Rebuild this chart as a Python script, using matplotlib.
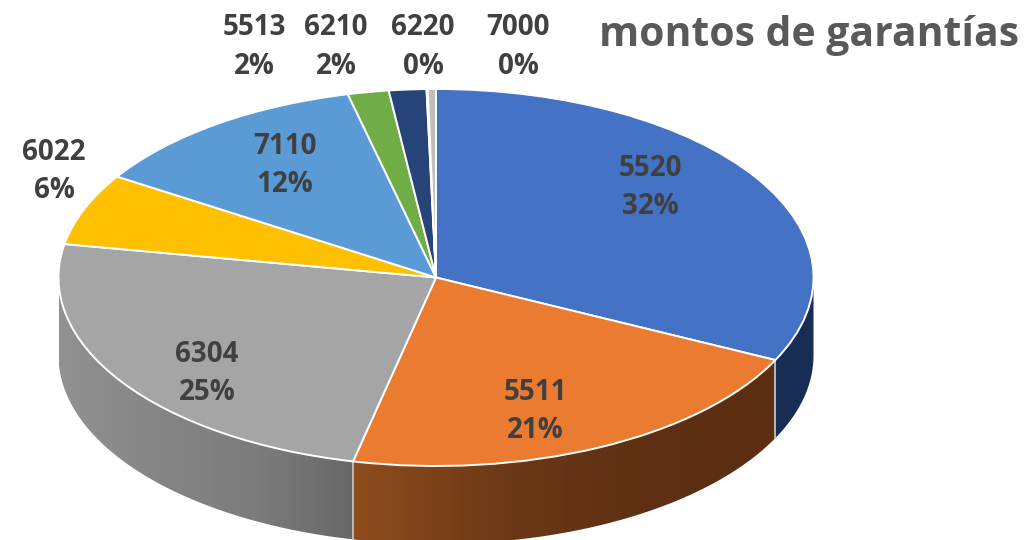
import numpy as np
import matplotlib
matplotlib.use("Agg")
import matplotlib.pyplot as plt
from matplotlib.colors import LinearSegmentedColormap
from matplotlib.patches import Polygon

codigos = ["5520", "5511", "6304", "6022", "7110", "5513", "6210", "6220", "7000"]
valores = [32.2, 21.3, 24.3, 6.15, 12.25, 1.75, 1.6, 0.05, 0.35]
etiquetas = ["32%", "21%", "25%", "6%", "12%", "2%", "2%", "0%", "0%"]
colores = ["#4472c4", "#eb7b31", "#a5a5a5", "#fec000", "#5b9bd5",
           "#70ad47", "#264478", "#9e480e", "#c0c0c0"]
titulo = "montos de garantías"

# centros de las etiquetas en pixeles
pos_x = [650, 535, 207, 54, 285, 254, 336, 423, 518]
pos_y = [187.5, 411.5, 373.5, 171.5, 165.5, 47, 47, 47, 47]

# pared lateral: colores de izquierda a derecha
paredes = {0: ["#182d55", "#182d55"],
           1: ["#8f4c1e", "#6e3a18", "#5f3012", "#5c2f12"],
           2: ["#929292", "#858585", "#7c7c7c", "#686868"]}

W, H = 1024, 540
cx, cy, rx, ry, prof = 436, 277.5, 377.5, 188.5, 78

fig = plt.figure(figsize=(W / 100, H / 100), dpi=100)
fondo = fig.add_axes([0, 0, 1, 1])
fondo.set_xlim(0, W)
fondo.set_ylim(H, 0)
fondo.axis("off")

# angulos acumulados, horario desde arriba
acum = np.cumsum([0] + valores) / sum(valores) * 2 * np.pi

for i, cols in paredes.items():
    a0 = max(acum[i], np.pi / 2)
    a1 = min(acum[i + 1], 3 * np.pi / 2)
    t = np.linspace(a0, a1, 120)
    xs = cx + rx * np.sin(t)
    ys = cy - ry * np.cos(t)
    puntos = np.vstack([np.c_[xs, ys], np.c_[xs[::-1], ys[::-1] + prof]])
    poly = Polygon(puntos, closed=True, fc="none", ec="none")
    fondo.add_patch(poly)
    cmap = LinearSegmentedColormap.from_list("p", cols)
    img = fondo.imshow(np.linspace(0, 1, 256).reshape(1, -1), cmap=cmap, aspect="auto",
                       extent=[xs.min(), xs.max(), H, 0])
    img.set_clip_path(poly)
    # filo vertical entre porciones
    if a0 > np.pi / 2:
        fondo.plot([xs[0], xs[0]], [ys[0], ys[0] + prof], color="#c8c8c8", lw=1.2)
fondo.set_xlim(0, W)
fondo.set_ylim(H, 0)

# tapa de la torta, achatada
ax = fig.add_axes([(cx - rx) / W, 1 - (cy + ry) / H, 2 * rx / W, 2 * ry / H])
ax.patch.set_alpha(0)
wedges, _ = ax.pie(valores, colors=colores, startangle=90, counterclock=False,
                   wedgeprops={"edgecolor": "white", "linewidth": 1.4})
ax.set_aspect("auto")
ax.set_xlim(-1, 1)
ax.set_ylim(-1, 1)
ax.axis("off")
for w in wedges:
    w.set_clip_on(False)

texto = fig.add_axes([0, 0, 1, 1])
texto.set_xlim(0, W)
texto.set_ylim(H, 0)
texto.axis("off")
texto.patch.set_alpha(0)
for cod, et, x, y in zip(codigos, etiquetas, pos_x, pos_y):
    texto.text(x, y, cod + "\n" + et, ha="center", va="center", color="#404040",
               family="Open Sans", fontweight="bold", fontsize=20, linespacing=1.42)
texto.text(809, 35, titulo, ha="center", va="center", color="#595959",
           family="Open Sans", fontweight="bold", fontsize=29.4)

fig.savefig("out.png", dpi=100)
